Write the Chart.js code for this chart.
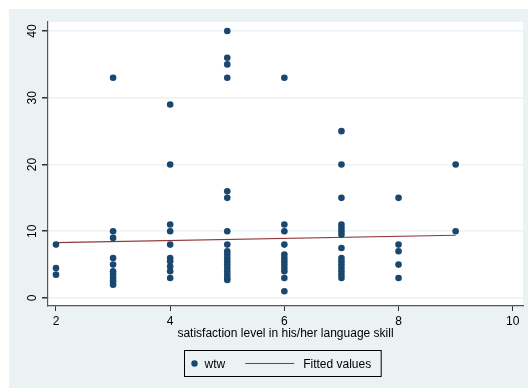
<!DOCTYPE html>
<html>
<head>
<meta charset="utf-8">
<script src="https://cdn.jsdelivr.net/npm/chart.js@4.4.0/dist/chart.umd.min.js"></script>
<style>
  body { margin: 0; background: #ffffff; }
  #wrap { position: absolute; left: 9px; top: 9px; width: 519px; height: 379px; background: #EAF2F3; }
</style>
</head>
<body>
<div id="wrap"><canvas id="grafico" width="519" height="379"></canvas></div>
<script>
// satisfaction levels and the wtw values observed at each one
var niveles = [2, 3, 4, 5, 6, 7, 8, 9];
var wtwPorNivel = [
  [8, 4.5, 3.5],
  [33, 10, 9, 6, 5, 4, 3.5, 3, 2.5, 2],
  [29, 20, 11, 10, 8, 6, 5.5, 4.7, 4, 3],
  [40, 36, 35, 33, 16, 15, 10, 8, 7, 6.5, 6, 5.5, 5, 4.5, 4, 3.5, 3, 2.7],
  [33, 11, 10, 8, 6.5, 6, 5.5, 5, 4.5, 4, 3, 1],
  [25, 20, 15, 11, 10.5, 10, 9.5, 7.5, 6, 5.5, 5, 4.5, 4, 3.5, 3],
  [15, 8, 7, 5, 3],
  [20, 10]
];
// fitted line end points
var ajusteX = [2, 9];
var ajusteY = [8.3, 9.4];
var ticksX = [2, 4, 6, 8, 10];
var ticksY = [0, 10, 20, 30, 40];

var puntos = [];
for (var i = 0; i < niveles.length; i++) {
  for (var j = 0; j < wtwPorNivel[i].length; j++) {
    puntos.push({ x: niveles[i], y: wtwPorNivel[i][j] });
  }
}
var linea = [];
for (var k = 0; k < ajusteX.length; k++) linea.push({ x: ajusteX[k], y: ajusteY[k] });

var fuente = "'Liberation Sans', Arial, Helvetica, sans-serif";
Chart.defaults.font.family = fuente;
Chart.defaults.font.size = 12;
Chart.defaults.color = '#000';

// white plot region
var fondoPlot = {
  id: 'fondoPlot',
  beforeDraw: function(chart) {
    var a = chart.chartArea, ctx = chart.ctx;
    ctx.save();
    ctx.fillStyle = '#ffffff';
    ctx.fillRect(a.left, a.top, a.right - a.left, a.bottom - a.top);
    ctx.restore();
  }
};

// stata style legend box under the axis title
var leyenda = {
  id: 'leyenda',
  afterDraw: function(chart) {
    var ctx = chart.ctx;
    var ds = chart.data.datasets;
    ctx.save();
    ctx.font = '12px ' + fuente;
    var w1 = ctx.measureText(ds[0].label).width;
    var w2 = ctx.measureText(ds[1].label).width;
    var ancho = 20 + w1 + 20 + 49 + 9 + w2 + 10;
    var cx = 273.5;
    var x0 = Math.round(cx - ancho / 2) + 0.5;
    var y0 = 341.5, alto = 26;
    ctx.strokeStyle = '#000';
    ctx.lineWidth = 1;
    ctx.strokeRect(x0, y0, ancho, alto);
    var yc = y0 + alto / 2;
    ctx.fillStyle = '#1A476F';
    ctx.beginPath();
    ctx.arc(x0 + 10, yc, 3.2, 0, Math.PI * 2);
    ctx.fill();
    var x = x0 + 20;
    ctx.fillStyle = '#000';
    ctx.textBaseline = 'middle';
    ctx.fillText(ds[0].label, x, yc + 1);
    x += w1 + 20;
    ctx.strokeStyle = '#90353B';
    ctx.lineWidth = 1.2;
    ctx.beginPath();
    ctx.moveTo(x, yc);
    ctx.lineTo(x + 49, yc);
    ctx.stroke();
    x += 58;
    ctx.fillText(ds[1].label, x, yc + 1);
    ctx.restore();
  }
};

var ctx = document.getElementById('grafico').getContext('2d');
var grafico = new Chart(ctx, {
  type: 'scatter',
  data: {
    datasets: [{
      label: 'wtw',
      data: puntos,
      backgroundColor: '#1A476F',
      borderColor: '#1A476F',
      borderWidth: 0,
      pointRadius: 3.3,
      pointHoverRadius: 3.3
    }, {
      type: 'line',
      label: 'Fitted values',
      data: linea,
      borderColor: '#90353B',
      borderWidth: 1.2,
      pointRadius: 0,
      fill: false
    }]
  },
  options: {
    responsive: false,
    animation: false,
    layout: { padding: { top: 13, right: 5, left: 0, bottom: 0 } },
    plugins: { legend: { display: false }, tooltip: { enabled: false } },
    scales: {
      x: {
        type: 'linear',
        min: 1.86,
        max: 10.18,
        afterBuildTicks: function(s) { s.ticks = ticksX.map(function(v) { return { value: v }; }); },
        afterFit: function(s) { s.height = 82; },
        grid: { drawOnChartArea: false, drawTicks: true, tickLength: 5, tickColor: '#333', lineWidth: 1 },
        border: { color: '#555', width: 1.2 },
        ticks: { padding: 3, maxRotation: 0, color: '#000', font: { size: 12 } },
        title: { display: true, text: 'satisfaction level in his/her language skill', color: '#000', font: { size: 12 }, padding: { top: 0, bottom: 47 } }
      },
      y: {
        type: 'linear',
        min: -1.2,
        max: 41.35,
        afterBuildTicks: function(s) { s.ticks = ticksY.map(function(v) { return { value: v }; }); },
        afterFit: function(s) { s.width = 39; },
        grid: { color: '#EAF2F3', lineWidth: 1.5, drawTicks: true, tickLength: 6, tickColor: '#333' },
        border: { color: '#555', width: 1.2 },
        ticks: { minRotation: 90, maxRotation: 90, crossAlign: 'center', padding: 3, color: '#000', font: { size: 12 } }
      }
    }
  },
  plugins: [fondoPlot, leyenda]
});
</script>
</body>
</html>
